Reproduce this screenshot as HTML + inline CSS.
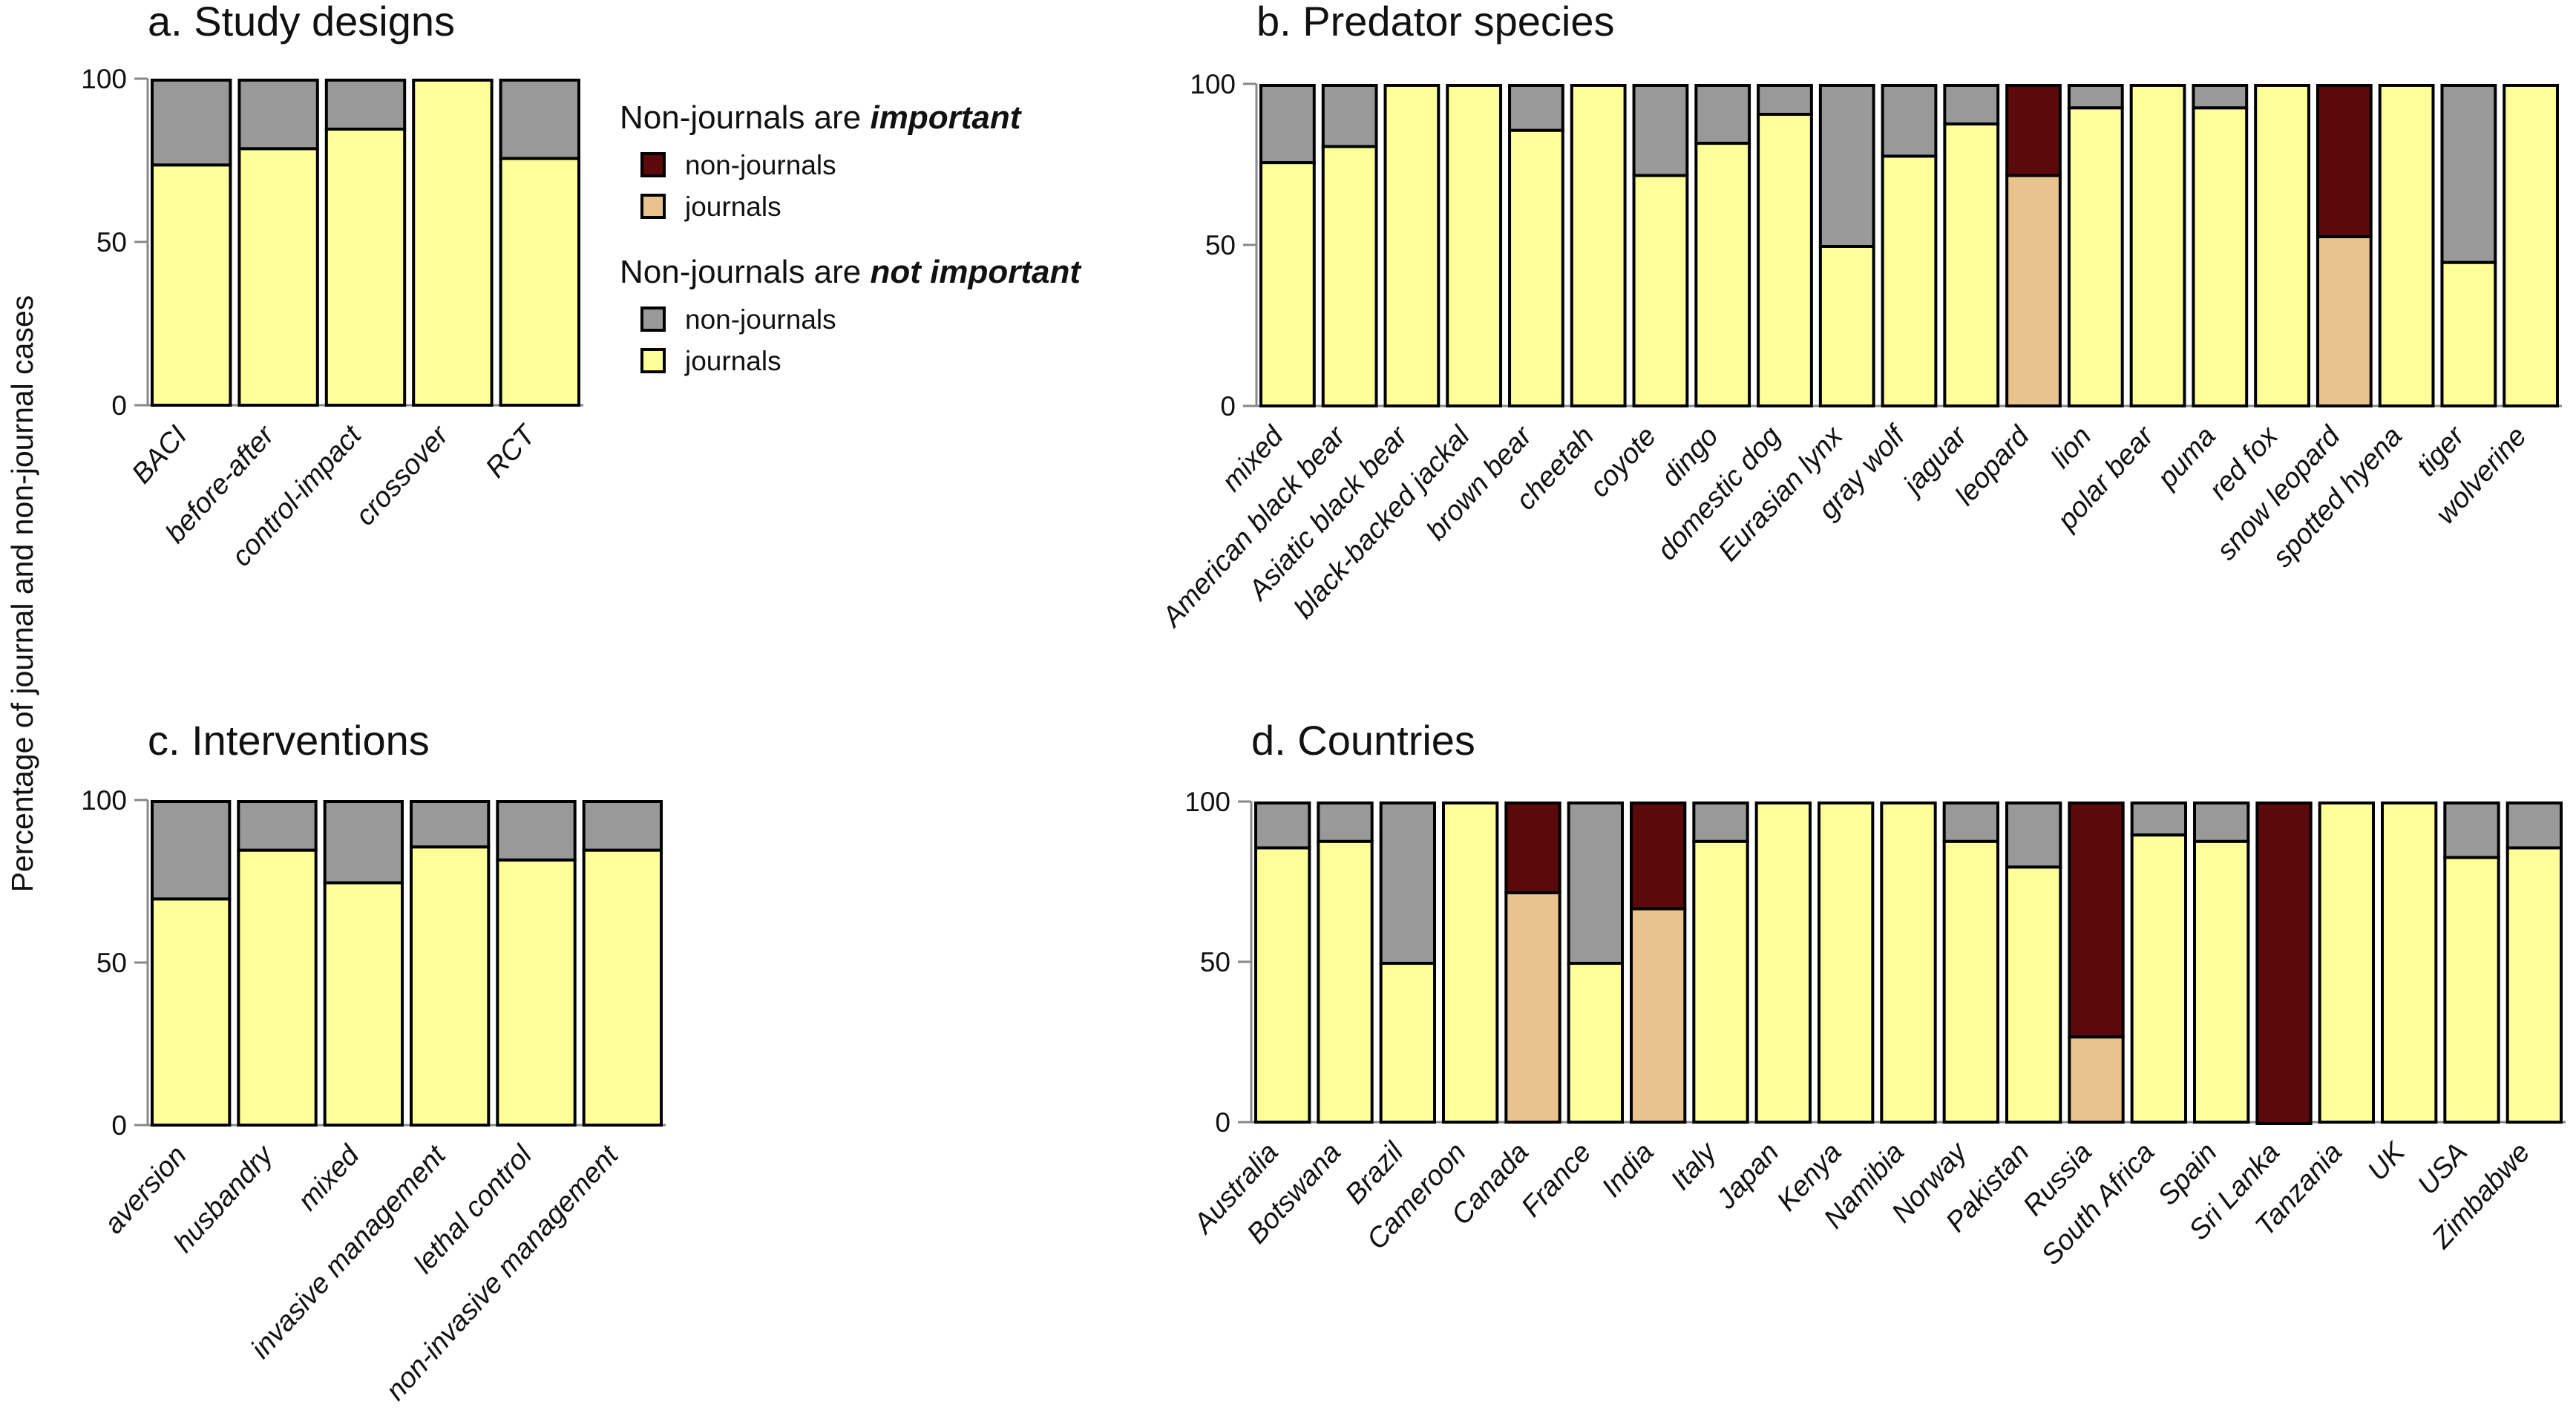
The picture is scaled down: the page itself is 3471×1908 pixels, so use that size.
<!DOCTYPE html>
<html><head><meta charset="utf-8"><style>
html,body{margin:0;padding:0;background:#fff;}
svg{display:block;font-family:"Liberation Sans",Arial,sans-serif;}
</style></head><body>
<svg id="chart" width="3471" height="1908" viewBox="0 0 3471 1908" xmlns="http://www.w3.org/2000/svg">
<text x="44" y="800" font-size="41" text-anchor="middle" transform="rotate(-90 44 800)" fill="#111">Percentage of journal and non-journal cases</text>
<g>
<text x="835" y="173" font-size="44" fill="#111">Non-journals are <tspan font-weight="bold" font-style="italic">important</tspan></text>
<rect x="865" y="207" width="30" height="30" fill="#5A0A0A" stroke="#000" stroke-width="4"/>
<text x="923" y="235" font-size="37" fill="#111">non-journals</text>
<rect x="865" y="263" width="30" height="30" fill="#E9C38E" stroke="#000" stroke-width="4"/>
<text x="923" y="291" font-size="37" fill="#111">journals</text>
<text x="835" y="381" font-size="44" fill="#111">Non-journals are <tspan font-weight="bold" font-style="italic">not important</tspan></text>
<rect x="865" y="415" width="30" height="30" fill="#999999" stroke="#000" stroke-width="4"/>
<text x="923" y="443" font-size="37" fill="#111">non-journals</text>
<rect x="865" y="471" width="30" height="30" fill="#FFFF99" stroke="#000" stroke-width="4"/>
<text x="923" y="499" font-size="37" fill="#111">journals</text>
</g>
</svg>
<script>
const catsA = ["BACI","before-after","control-impact","crossover","RCT"];
const valsA = [74,79,85,100,76];
const impA = [0,0,0,0,0];
const catsB = ["mixed","American black bear","Asiatic black bear","black-backed jackal","brown bear","cheetah","coyote","dingo","domestic dog","Eurasian lynx","gray wolf","jaguar","leopard","lion","polar bear","puma","red fox","snow leopard","spotted hyena","tiger","wolverine"];
const valsB = [76,81,100,100,86,100,72,82,91,50,78,88,72,93,100,93,100,53,100,45,100];
const impB = [0,0,0,0,0,0,0,0,0,0,0,0,1,0,0,0,0,1,0,0,0];
const catsC = ["aversion","husbandry","mixed","invasive management","lethal control","non-invasive management"];
const valsC = [70,85,75,86,82,85];
const impC = [0,0,0,0,0,0];
const catsD = ["Australia","Botswana","Brazil","Cameroon","Canada","France","India","Italy","Japan","Kenya","Namibia","Norway","Pakistan","Russia","South Africa","Spain","Sri Lanka","Tanzania","UK","USA","Zimbabwe"];
const valsD = [86,88,50,100,72,50,67,88,100,100,100,88,80,27,90,88,0,100,100,83,86];
const impD = [0,0,0,0,1,0,1,0,0,0,0,0,0,1,0,0,1,0,0,0,0];
const yTicks = [0,50,100];

const NS="http://www.w3.org/2000/svg";
const svg=document.getElementById('chart');
function mk(tag,attrs,parent){const e=document.createElementNS(NS,tag);for(const k in attrs)e.setAttribute(k,attrs[k]);(parent||svg).appendChild(e);return e;}

function panel(id,title,cats,vals,imp,x0,x1,yTop,yBot,titleY){
  const g=mk('g',{});
  
  
  const t=mk('text',{x:x0,y:titleY,'font-size':56,fill:'#111'},g);t.textContent=title;
  
  
  const n=cats.length, pitch=(x1-x0)/n, gap=8, bw=pitch-gap;
  const yS=v=>yBot-(yBot-yTop)*v/100;
  const xS=i=>x0+i*pitch+gap/2;
  const ax=mk('line',{x1:x0,y1:yTop,x2:x0,y2:yBot,stroke:'#888','stroke-width':3},g);
  
  
  const bx=mk('line',{x1:x0-18,y1:yBot,x2:x1,y2:yBot,stroke:'#888','stroke-width':3},g);
  
  
  yTicks.forEach(v=>{
    const tk=mk('line',{x1:x0-18,y1:yS(v),x2:x0,y2:yS(v),stroke:'#888','stroke-width':3},g);
    
    
    const tl=mk('text',{x:x0-28,y:yS(v)+13,'font-size':37,'text-anchor':'end',fill:'#111'},g);
    tl.textContent=v;
    
    
  });
  cats.forEach((c,i)=>{
    const v=vals[i], x=xS(i);
    const top=imp[i]?'#5A0A0A':'#999999', bot=imp[i]?'#E9C38E':'#FFFF99';
    if(v<100){const r=mk('rect',{x:x+2,y:yS(100)+2,width:bw-4,height:yS(v)-yS(100),fill:top,stroke:'#000','stroke-width':4},g);
      
      }
    if(v>0){const r=mk('rect',{x:x+2,y:yS(v)+2,width:bw-4,height:yS(0)-yS(v)-2,fill:bot,stroke:'#000','stroke-width':4},g);
      
      }
    const cx=x+bw/2-4, cy=yBot+42;
    const lb=mk('text',{x:cx,y:cy,'font-size':38,'font-style':'italic','text-anchor':'end',fill:'#111',transform:`rotate(-48 ${cx} ${cy})`},g);
    lb.textContent=c;
    
    
  });
}
panel('a','a. Study designs',catsA,valsA,impA,199,786,106,546,48);
panel('b','b. Predator species',catsB,valsB,impB,1693,3452,113,547,48);
panel('c','c. Interventions',catsC,valsC,impC,199,897,1078,1516,1017);
panel('d','d. Countries',catsD,valsD,impD,1686,3457,1080,1512,1017);
</script>
</body></html>
